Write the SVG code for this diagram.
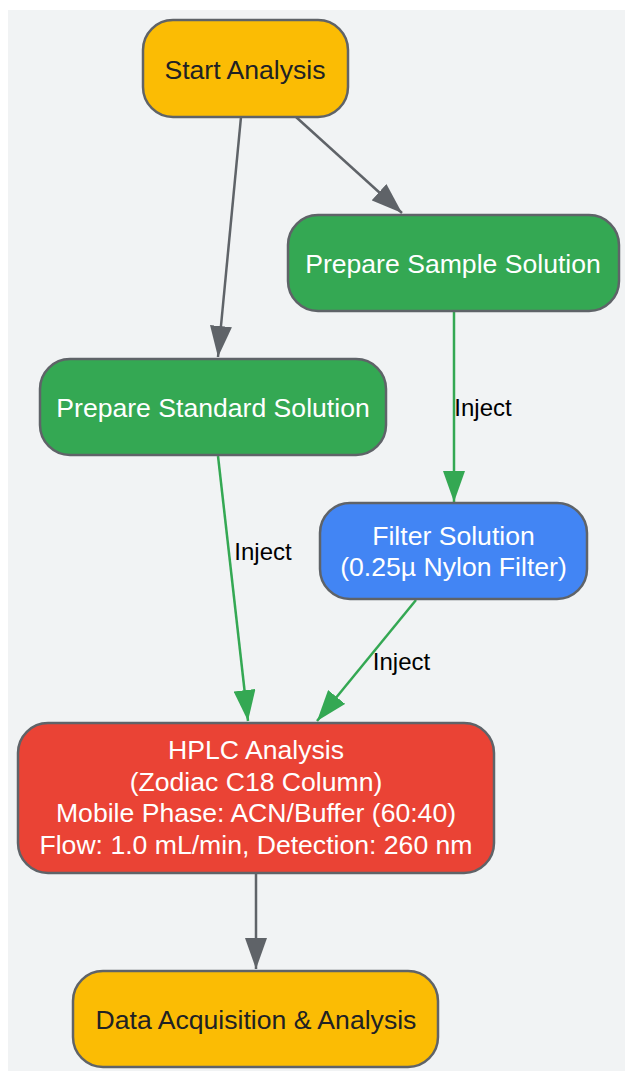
<svg xmlns="http://www.w3.org/2000/svg" width="625" height="1071" viewBox="0 0 625 1071">
<defs>
<style>
.node rect{stroke:#5f6368;stroke-width:2.5}
.t{font-family:"Liberation Sans",Arial,sans-serif;font-size:26.6px;text-anchor:middle}
.dark{fill:#202124}
.light{fill:#ffffff}
.lbl{font-family:"Liberation Sans",Arial,sans-serif;font-size:24px;fill:#000000;text-anchor:middle}
.eg{stroke:#5f6368;stroke-width:2.5;fill:none}
.eG{stroke:#34a853;stroke-width:2.5;fill:none}
</style>
<marker id="ag" viewBox="0 0 31 22" refX="31" refY="11" markerWidth="31" markerHeight="22" markerUnits="userSpaceOnUse" orient="auto"><path d="M0,0 L31,11 L0,22 Z" fill="#5f6368"/></marker>
<marker id="aG" viewBox="0 0 31 22" refX="31" refY="11" markerWidth="31" markerHeight="22" markerUnits="userSpaceOnUse" orient="auto"><path d="M0,0 L31,11 L0,22 Z" fill="#34a853"/></marker>
</defs>
<rect x="8" y="10" width="617" height="1061" fill="#f1f3f4"/>
<g id="connectors">
<path class="eg" d="M241,117 L218,357" marker-end="url(#ag)"/>
<path class="eg" d="M296,117 L402,213" marker-end="url(#ag)"/>
<path class="eG" d="M454,311 L454,502" marker-end="url(#aG)"/>
<path class="eG" d="M218,456 L248,721" marker-end="url(#aG)"/>
<path class="eG" d="M416,600 L317,721" marker-end="url(#aG)"/>
<path class="eg" d="M256,873 L256,969" marker-end="url(#ag)"/>
<text class="lbl" x="483" y="416">Inject</text>
<text class="lbl" x="263" y="560">Inject</text>
<text class="lbl" x="401.5" y="670">Inject</text>
</g>
<g id="start" class="node">
<rect x="143" y="20" width="205" height="97" rx="30" fill="#fbbc04"/>
<text class="t dark" x="245" y="79">Start Analysis</text>
</g>
<g id="sample" class="node">
<rect x="288" y="215" width="331" height="96" rx="30" fill="#34a853"/>
<text class="t light" x="453" y="273">Prepare Sample Solution</text>
</g>
<g id="standard" class="node">
<rect x="40" y="359" width="346" height="96" rx="30" fill="#34a853"/>
<text class="t light" x="213" y="417">Prepare Standard Solution</text>
</g>
<g id="filter" class="node">
<rect x="320" y="503" width="267" height="96" rx="30" fill="#4285f4"/>
<text class="t light" x="453.5" y="545">Filter Solution</text>
<text class="t light" x="453.5" y="576">(0.25µ Nylon Filter)</text>
</g>
<g id="hplc" class="node">
<rect x="18" y="723" width="476" height="150" rx="30" fill="#ea4335"/>
<text class="t light" x="256" y="759">HPLC Analysis</text>
<text class="t light" x="256" y="791">(Zodiac C18 Column)</text>
<text class="t light" x="256" y="822">Mobile Phase: ACN/Buffer (60:40)</text>
<text class="t light" x="256" y="854">Flow: 1.0 mL/min, Detection: 260 nm</text>
</g>
<g id="data" class="node">
<rect x="73" y="971" width="365" height="96" rx="30" fill="#fbbc04"/>
<text class="t dark" x="256" y="1029">Data Acquisition &amp; Analysis</text>
</g>
</svg>
